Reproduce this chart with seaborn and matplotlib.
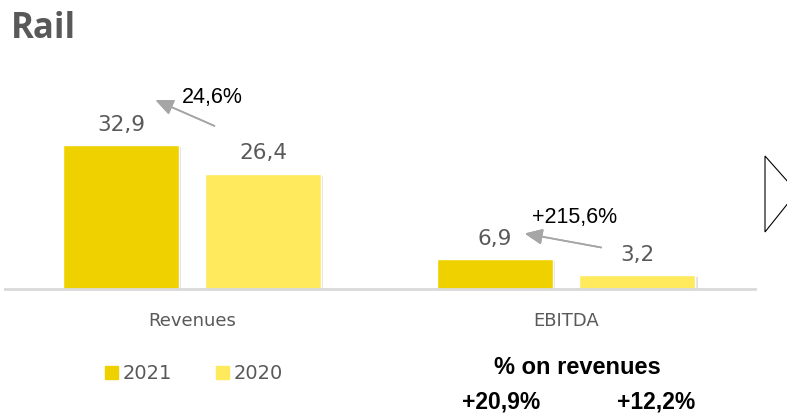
import pandas as pd
import seaborn as sns
import matplotlib.pyplot as plt
import matplotlib.patheffects as pe
from matplotlib.patches import Polygon

# data
categories = ["Revenues", "EBITDA"]
years = ["2021", "2020"]
values_2021 = [32.9, 6.9]
values_2020 = [26.4, 3.2]
growth_labels = ["24,6%", "+215,6%"]
margin_labels = ["+20,9%", "+12,2%"]

df = pd.DataFrame({
    "category": categories * 2,
    "year": [years[0]] * 2 + [years[1]] * 2,
    "value": values_2021 + values_2020,
})

W, H = 787, 414
colors = {"2021": "#EFD100", "2020": "#FFE95C"}
grey_txt = "#595959"

sns.set_theme(style="white")
plt.rcParams["font.family"] = ["DejaVu Sans"]

fig = plt.figure(figsize=(W / 100, H / 100), dpi=100)


def fx(x):
    return x / W


def fy(y):
    return 1 - y / H


# axes: baseline at y=290px, category 0 at x=192px, 374px per category
ax = fig.add_axes([fx(5), fy(290), fx(750), 175 / H])
sns.barplot(data=df, x="category", y="value", hue="year", hue_order=years,
            palette=colors, width=0.76, gap=0.18, saturation=1, ax=ax,
            legend=False)
ax.set_xlim(-0.5, 1.505)
ax.set_ylim(0, 40)
ax.set_xlabel("")
ax.set_ylabel("")
ax.set_yticks([])
ax.set_xticks([])
for s in ["top", "right", "left"]:
    ax.spines[s].set_visible(False)
ax.spines["bottom"].set_color("#d9d9d9")
ax.spines["bottom"].set_linewidth(2)

shadow = [pe.SimplePatchShadow(offset=(1.5, -1.5), shadow_rgbFace="#000000", alpha=0.12),
          pe.Normal()]
for cont in ax.containers:
    for bar in cont:
        bar.set_path_effects(shadow)
    ax.bar_label(cont, labels=[f"{v:.1f}".replace(".", ",") for v in cont.datavalues],
                 padding=8, fontsize=15.5, color=grey_txt)

# category labels under the axis
for i, cat in enumerate(categories):
    ax.text(i, -0.18, cat, transform=ax.get_xaxis_transform(), ha="center",
            va="center", fontsize=13, color=grey_txt)

# growth arrows (from 2020 label toward 2021 label)
arrow_kw = dict(arrowstyle="-|>,head_length=0.9,head_width=0.4", color="#a6a6a6", lw=1.2)
fig.add_artist(plt.annotate("", xy=(fx(153), fy(100)), xytext=(fx(217), fy(128)),
                            xycoords="figure fraction", arrowprops=arrow_kw))
fig.add_artist(plt.annotate("", xy=(fx(522), fy(234)), xytext=(fx(604), fy(249)),
                            xycoords="figure fraction", arrowprops=arrow_kw))
fig.text(fx(212), fy(97), growth_labels[0], ha="center", va="center", fontsize=15.5,
         color="black", family="Liberation Sans")
fig.text(fx(575), fy(218), growth_labels[1], ha="center", va="center", fontsize=15.5,
         color="black", family="Liberation Sans")

# title
fig.text(fx(11), fy(29), "Rail", ha="left", va="center", fontsize=25,
         fontweight="bold", color=grey_txt, family="Open Sans")

# legend
for x0, yr in [(105, years[0]), (216, years[1])]:
    fig.patches.append(plt.Rectangle((fx(x0), fy(380)), 13 / W, 13 / H,
                                     transform=fig.transFigure, color=colors[yr]))
    fig.text(fx(x0 + 18), fy(374), yr, ha="left", va="center", fontsize=14, color=grey_txt)

# margins block
fig.text(fx(577), fy(367), "% on revenues", ha="center", va="center", fontsize=17,
         fontweight="bold", color="black", family="Liberation Sans")
for xc, lab in zip([501, 656], margin_labels):
    fig.text(fx(xc), fy(409), lab, ha="center", va="baseline", fontsize=16.5,
             fontweight="bold", color="black", family="Liberation Sans")

# outlined arrow shape at right edge
fig.patches.append(Polygon([(fx(765), fy(157)), (fx(797), fy(193)), (fx(765), fy(233))],
                           closed=True, transform=fig.transFigure, facecolor="white",
                           edgecolor="black", lw=0.8))

fig.savefig("out.png", dpi=100)
